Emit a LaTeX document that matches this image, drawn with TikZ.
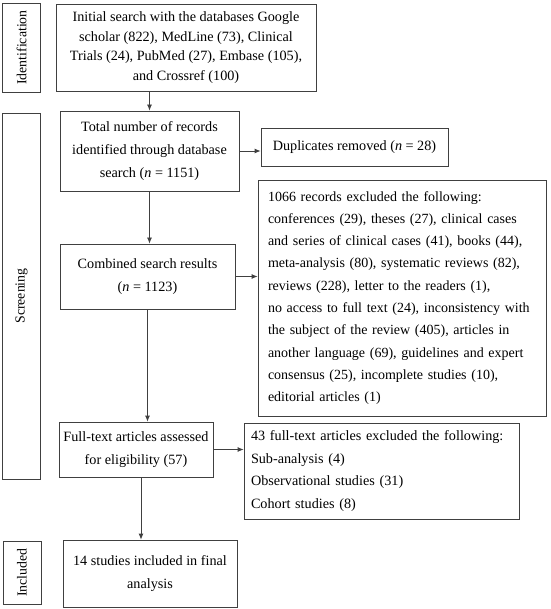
\documentclass[tikz,border=0pt]{standalone}
\usepackage{fontspec}
\setmainfont{Liberation Serif}
\usetikzlibrary{arrows.meta}

\begin{document}
\begin{tikzpicture}[x=1pt, y=-1pt, >={Latex[length=6pt,width=5pt]},
    box/.style={draw=black!75, line width=0.8pt, inner sep=0pt, align=center,
        font=\fontsize{14.2}{22.8}\selectfont},
    listbox/.style={box, align=left, inner xsep=10pt},
    stagebox/.style={draw=black!75, line width=0.8pt, inner sep=0pt, rotate=90,
        minimum height=38pt, font=\fontsize{13.8}{16}\selectfont},
    flow/.style={->, draw=black!75, line width=0.8pt}]
    \useasboundingbox (0,0) rectangle (550,609);

    % stages on the left
    \node[stagebox, minimum width=89pt] (ident) at (21.5, 47.5) {Identification};
    \node[stagebox, minimum width=366pt] (screen) at (21.5, 296) {Screening};
    \node[stagebox, minimum width=63pt] (incl) at (22, 572.5) {Included};

    % main column
    \node[box, minimum width=260pt, minimum height=87pt, font=\fontsize{14.2}{19.4}\selectfont]
        (init) at (186, 47.5) {Initial search with the databases Google\\
        scholar (822), MedLine (73), Clinical\\
        Trials (24), PubMed (27), Embase (105),\\
        and Crossref (100)};
    \node[box, minimum width=179pt, minimum height=80pt] (total) at (149.5, 151)
        {Total number of records\\ identified through database\\ search (\textit{n} = 1151)};
    \node[box, minimum width=175pt, minimum height=65pt] (comb) at (147.5, 276.5)
        {Combined search results\\ (\textit{n} = 1123)};
    \node[box, minimum width=154pt, minimum height=55pt] (full) at (136, 449.5)
        {Full-text articles assessed\\ for eligibility (57)};
    \node[box, minimum width=174pt, minimum height=67pt] (final) at (150, 573.5)
        {14 studies included in final\\ analysis};

    % excluded records
    \node[box, minimum width=187pt, minimum height=38pt] (dup) at (354.5, 147)
        {Duplicates removed (\textit{n} = 28)};
    \node[listbox, text width=268pt, minimum height=236pt,
        font=\fontsize{14}{22.3}\selectfont] (excla) at (402, 298)
        {1066 records excluded the following:\\
        conferences (29), theses (27), clinical cases\\
        and series of clinical cases (41), books (44),\\
        meta-analysis (80), systematic reviews (82),\\
        reviews (228), letter to the readers (1),\\
        no access to full text (24), inconsistency with\\
        the subject of the review (405), articles in\\
        another language (69), guidelines and expert\\
        consensus (25), incomplete studies (10),\\
        editorial articles (1)};
    \node[listbox, inner xsep=7pt, text width=261pt, minimum height=96pt] (exclb) at (381.5, 471)
        {43 full-text articles excluded the following:\\
        Sub-analysis (4)\\
        Observational studies (31)\\
        Cohort studies (8)};

    % arrows
    \draw[flow] (total.north |- init.south) -- (total.north);
    \draw[flow] (total.east) -- (total.east -| dup.west);
    \draw[flow] (total.south) -- (total.south |- comb.north);
    \draw[flow] (comb.east) -- (comb.east -| excla.west);
    \draw[flow] (comb.south) -- (comb.south |- full.north);
    \draw[flow] (full.east) -- (full.east -| exclb.west);
    \draw[flow] ([xshift=5pt]full.south) -- ([xshift=5pt]full.south |- final.north);
\end{tikzpicture}
\end{document}
